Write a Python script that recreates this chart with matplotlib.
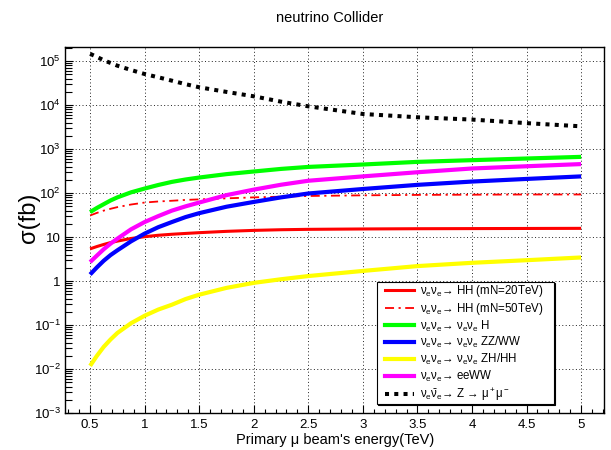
import matplotlib
matplotlib.use("Agg")
import matplotlib.pyplot as plt
from matplotlib.lines import Line2D
from matplotlib.legend_handler import HandlerLine2D
from matplotlib.ticker import FixedLocator, FixedFormatter, MultipleLocator, LogLocator, NullFormatter

plt.rcParams['font.family'] = ['Liberation Sans', 'DejaVu Sans']
plt.rcParams['mathtext.fontset'] = 'custom'
plt.rcParams['mathtext.rm'] = 'Liberation Sans'
plt.rcParams['mathtext.it'] = 'Liberation Sans:italic'
plt.rcParams['mathtext.default'] = 'regular'

# ---- data ----
energy = [0.5, 0.5625, 0.625, 0.6875, 0.75, 0.875, 1.0, 1.125, 1.25, 1.375,
          1.5, 1.75, 2.0, 2.25, 2.5, 3.0, 3.5, 4.0, 4.5, 5.0]
hh_mn20 = [5.4, 6.1, 6.8, 7.5, 8.1, 9.3, 10.2, 11.0, 11.6, 12.1,
           12.6, 13.5, 14.2, 14.7, 15.0, 15.3, 15.5, 15.6, 15.7, 15.8]
hh_mn50 = [31, 35.5, 40, 44, 48, 55, 61, 64.5, 67, 70,
           72, 76, 80, 83, 86, 89, 91, 92, 93, 93]
vvh = [37, 46, 56, 68, 80, 104, 127, 153, 180, 204,
       226, 270, 310, 355, 394, 447, 513, 561, 612, 667]
vvzz = [1.41, 2.05, 2.9, 3.9, 5.0, 8.0, 12.0, 16.8, 22, 28.5,
        35, 49, 63, 80, 98, 124, 154, 183, 210, 240]
vvzh = [0.0118, 0.020, 0.032, 0.047, 0.066, 0.11, 0.163, 0.225, 0.29, 0.39,
        0.49, 0.70, 0.91, 1.1, 1.3, 1.7, 2.19, 2.6, 2.98, 3.44]
eeww = [2.7, 3.8, 5.3, 7.1, 9.2, 15, 22, 30, 40, 50,
        61, 90, 120, 155, 191, 240, 298, 363, 408, 457]
zmumu = [1.47e5, 1.25e5, 1.05e5, 9.1e4, 7.9e4, 6.3e4, 5.1e4, 4.3e4, 3.6e4, 3.0e4,
         2.55e4, 2.0e4, 1.59e4, 1.2e4, 9.4e3, 6.3e3, 5.3e3, 4.7e3, 3.9e3, 3.3e3]

labels = ['ν$_e$ν$_e$→ HH (mN=20TeV)',
          'ν$_e$ν$_e$→ HH (mN=50TeV)',
          'ν$_e$ν$_e$→ ν$_e$ν$_e$ H',
          'ν$_e$ν$_e$→ ν$_e$ν$_e$ ZZ/WW',
          'ν$_e$ν$_e$→ ν$_e$ν$_e$ ZH/HH',
          'ν$_e$ν$_e$→ eeWW',
          r'ν$_e\bar{ν}_e$→ Z → μ$^+$μ$^-$']

x_ticks = [0.5, 1.0, 1.5, 2.0, 2.5, 3.0, 3.5, 4.0, 4.5, 5.0]
x_ticklabels = ['0.5', '1', '1.5', '2', '2.5', '3', '3.5', '4', '4.5', '5']
y_ticks = [1e-3, 1e-2, 1e-1, 1, 10, 1e2, 1e3, 1e4, 1e5]
y_ticklabels = ['$10^{-3}$', '$10^{-2}$', '$10^{-1}$', '1', '10',
                '$10^{2}$', '$10^{3}$', '$10^{4}$', '$10^{5}$']

title = 'neutrino Collider'
xlabel = "Primary μ beam's energy(TeV)"
ylabel = 'σ(fb)'


class ShiftedLineHandler(HandlerLine2D):
    """Legend line sample that starts a little inside its handle box."""
    def create_artists(self, legend, orig_handle, xdescent, ydescent,
                       width, height, fontsize, trans):
        shift = 4.5
        return super().create_artists(legend, orig_handle, xdescent - shift,
                                      ydescent, width - shift, height,
                                      fontsize, trans)


# ---- figure ----
fig = plt.figure(figsize=(6.11, 4.5), dpi=100)
ax = fig.add_axes([65/611, 1-413/450, (604-65)/611, (413-47)/450])

series = [
    (hh_mn20, dict(color='#ff0000', lw=2.2, ls='-')),
    (hh_mn50, dict(color='#ff0000', lw=1.3, ls=(0, (5, 2.5, 1.2, 2.5)))),
    (vvh, dict(color='#00ff00', lw=3.0, ls='-')),
    (vvzz, dict(color='#0000ff', lw=3.0, ls='-')),
    (vvzh, dict(color='#ffff00', lw=3.0, ls='-')),
    (eeww, dict(color='#ff00ff', lw=3.0, ls='-')),
    (zmumu, dict(color='black', lw=2.9, ls=(0, (1, 1.3)))),
]
handles = []
for (vals, st), lab in zip(series, labels):
    ax.plot(energy, vals, solid_capstyle='butt', dash_capstyle='butt',
            solid_joinstyle='round', **st)
    handles.append(Line2D([], [], **st, dash_capstyle='butt', label=lab))

ax.set_yscale('log')
ax.set_xlim(0.27, 5.21)
ax.set_ylim(1e-3, 2.1e5)

ax.xaxis.set_major_locator(FixedLocator(x_ticks))
ax.xaxis.set_major_formatter(FixedFormatter(x_ticklabels))
ax.xaxis.set_minor_locator(MultipleLocator(0.1))
ax.yaxis.set_major_locator(FixedLocator(y_ticks))
ax.yaxis.set_major_formatter(FixedFormatter(y_ticklabels))
ax.yaxis.set_minor_locator(LogLocator(base=10, subs=range(2, 10), numticks=20))
ax.yaxis.set_minor_formatter(NullFormatter())

ax.tick_params(axis='both', which='both', direction='in', top=False, right=False)
ax.tick_params(axis='x', which='major', length=6, width=0.8, labelsize=9.5, pad=4)
ax.tick_params(axis='x', which='minor', length=3, width=0.8)
ax.tick_params(axis='y', which='major', length=6, width=0.8, labelsize=9.5, pad=3)
ax.tick_params(axis='y', which='minor', length=5, width=0.8)
for s in ax.spines.values():
    s.set_linewidth(1.0)

ax.grid(True, which='major', color='#222222', lw=0.7, ls=(0, (1, 2.5)))
ax.set_axisbelow(True)

fig.text(330/611, 1-18/450, title, ha='center', va='center', fontsize=10.5)
fig.text(335/611, 1-440/450, xlabel, ha='center', va='center', fontsize=10.5)
fig.text(29/611, 1-218/450, ylabel, ha='center', va='center', rotation=90, fontsize=17)

leg = ax.legend(handles=handles, loc='lower left', mode='expand',
                bbox_to_anchor=((377-65)/539, (413-404)/366, 177/539, 0.01),
                borderaxespad=0, fancybox=False, frameon=True,
                fontsize=8.3, handlelength=3.1, handletextpad=0.5,
                labelspacing=0.15, borderpad=0.12,
                handler_map={Line2D: ShiftedLineHandler()},
                shadow={'color': 'black', 'alpha': 1.0, 'ox': 1, 'oy': -1})
leg.get_frame().set_edgecolor('black')
leg.get_frame().set_linewidth(0.8)
leg.get_frame().set_facecolor('white')
leg.set_zorder(10)

fig.savefig('out.png', dpi=100)
